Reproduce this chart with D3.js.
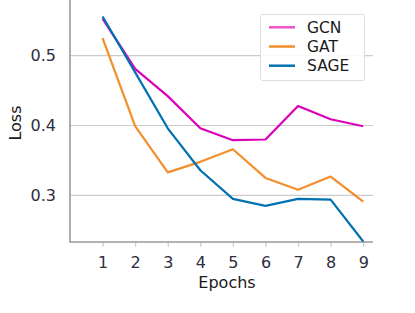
<!DOCTYPE html>
<html><head><meta charset="utf-8">
<script src="https://cdn.jsdelivr.net/npm/d3@7"></script>
<style>body{margin:0;background:#fff;}svg{display:block;font-family:"DejaVu Sans",sans-serif;}</style>
</head><body><svg id="c" width="415" height="313"></svg>
<script>
const epochs = [1,2,3,4,5,6,7,8,9];
const gcn  = [0.553,0.481,0.442,0.396,0.379,0.380,0.428,0.409,0.399];
const gat  = [0.525,0.399,0.333,0.348,0.366,0.325,0.308,0.327,0.291];
const sage = [0.556,0.476,0.396,0.336,0.295,0.285,0.295,0.294,0.234];
const yTicks = [0.3,0.4,0.5];
const seriesNames = ["GCN","GAT","SAGE"];
const seriesColors = ["#dd00bb","#f28e2b","#0072b2"];
const legendColors = ["#ee55cc","#f28e2b","#0072b2"];

const svg = d3.select("#c");
const L=70, R=373, T=0, B=242;
const x = d3.scaleLinear().domain([0,9.3]).range([L,R]);
const y = d3.scaleLinear().domain([0.2333,0.5796]).range([B,T]);

svg.append("g").selectAll("line").data(yTicks).join("line")
  .attr("x1",L).attr("x2",R).attr("y1",d=>y(d)).attr("y2",d=>y(d))
  .attr("stroke","#cccccc").attr("stroke-width",1.2);

const yAxis = svg.append("g").attr("transform",`translate(${L},0)`)
  .call(d3.axisLeft(y).tickValues(yTicks).tickFormat(d3.format(".1f")).tickSize(0).tickPadding(14));
const xAxis = svg.append("g").attr("transform",`translate(0,${B})`)
  .call(d3.axisBottom(x).tickValues(epochs).tickSize(5).tickPadding(9.5));
[yAxis,xAxis].forEach(a=>{
  a.select(".domain").remove();
  a.attr("font-size",null).attr("font-family",null);
  a.selectAll("text").attr("fill","#2e2e3e").style("font-size","16px").style("font-family","DejaVu Sans");
  a.selectAll(".tick line").attr("stroke","#cccccc").attr("stroke-width",1.2);
});
svg.append("path").attr("d",`M${L},${T}V${B}H${R}`).attr("fill","none").attr("stroke","#999999").attr("stroke-width",1.6);

const line = d3.line().x((d,i)=>x(epochs[i])).y(d=>y(d));
[gcn,gat,sage].forEach((s,k)=>{
  svg.append("path").datum(s).attr("d",line).attr("fill","none")
    .attr("stroke",seriesColors[k]).attr("stroke-width",2.2).attr("stroke-linejoin","round");
});

svg.append("text").attr("x",227).attr("y",288).attr("text-anchor","middle")
  .style("font-size","16px").attr("fill","#1a1a1a").text("Epochs");
svg.append("text").attr("transform",`translate(20.5,123) rotate(-90)`).attr("text-anchor","middle")
  .style("font-size","16px").attr("fill","#1a1a1a").text("Loss");

const lg = svg.append("g");
lg.append("rect").attr("x",260.5).attr("y",14.5).attr("width",104).attr("height",66)
  .attr("fill","#fff").attr("fill-opacity",0.85).attr("stroke","#dddddd").attr("rx",2);
seriesNames.forEach((n,i)=>{
  const yy = 27.3 + i*19.2;
  lg.append("line").attr("x1",269).attr("x2",295).attr("y1",yy).attr("y2",yy)
    .attr("stroke",legendColors[i]).attr("stroke-width",2.5);
  lg.append("text").attr("x",307).attr("y",yy+5.5).style("font-size","15.5px").attr("fill","#1a1a1a").text(n);
});
</script></body></html>
